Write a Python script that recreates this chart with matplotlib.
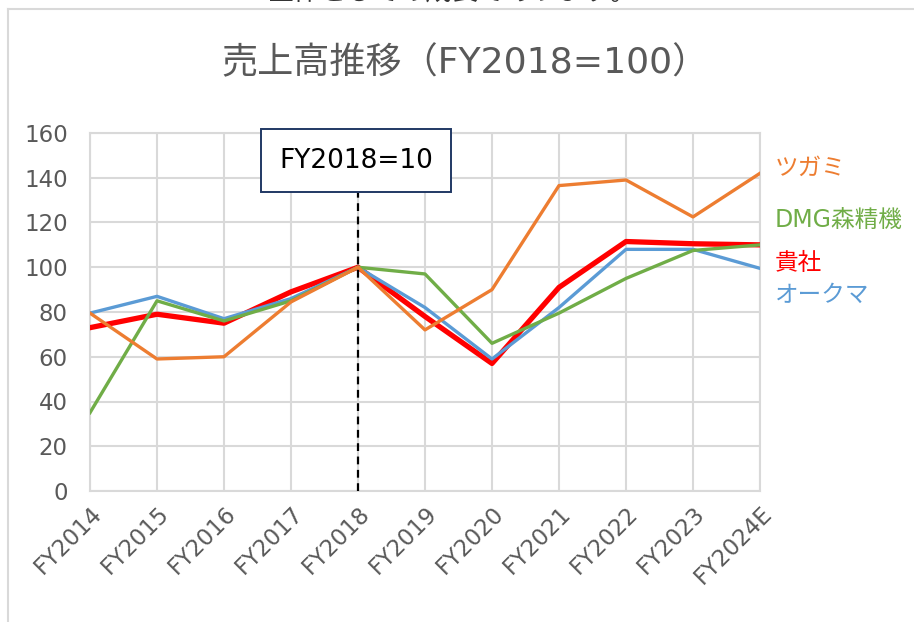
import matplotlib
matplotlib.use("Agg")
import matplotlib.pyplot as plt
from matplotlib.lines import Line2D

# 英数字は DejaVu（Verdana 風）、日本語は Noto にフォールバック
plt.rcParams['font.family'] = ['DejaVu Sans', 'Noto Sans CJK JP']

# データ
years = ["FY2014", "FY2015", "FY2016", "FY2017", "FY2018", "FY2019",
         "FY2020", "FY2021", "FY2022", "FY2023", "FY2024E"]
kisha = [73, 79, 75, 89, 100, 78, 57, 91, 111.5, 110.5, 110]
okuma = [79.5, 87, 77, 86, 100, 82, 59, 82, 108, 108, 99.5]
dmg = [35, 85, 76, 85, 100, 97, 66, 79.5, 95, 107.5, 110]
tsugami = [79.5, 59, 60, 84.5, 100, 72, 90, 136.5, 139, 122.5, 142]

yticks = [0, 20, 40, 60, 80, 100, 120, 140, 160]
base_idx = 4  # FY2018

c_red = "#FF0000"
c_blue = "#5B9BD5"
c_green = "#70AD47"
c_orange = "#ED7D31"
c_text = "#595959"
c_grid = "#D9D9D9"

fig = plt.figure(figsize=(9.14, 6.22), dpi=100)
ax = fig.add_axes([90 / 914, 1 - 491 / 622, 670 / 914, 358 / 622])

x = list(range(len(years)))

# 線（下から順に）
ax.plot(x, kisha, color=c_red, lw=3.8, zorder=3)
ax.plot(x, okuma, color=c_blue, lw=2.4, zorder=4)
ax.plot(x, dmg, color=c_green, lw=2.4, zorder=5)
ax.plot(x, tsugami, color=c_orange, lw=2.4, zorder=6)

# 基準年の点線
ax.plot([base_idx, base_idx], [0, 133], color="black", lw=1.6,
        ls=(0, (3.5, 2.5)), zorder=7, clip_on=False)

ax.set_xlim(0, len(years) - 1)
ax.set_ylim(0, 160)
ax.set_yticks(yticks)
ax.set_xticks(x)
ax.set_xticklabels(years, rotation=45, ha='right', va='top',
                   rotation_mode='anchor', fontsize=16.5, color=c_text)
ax.tick_params(axis='y', labelsize=16.5, colors=c_text, length=0, pad=16)
ax.tick_params(axis='x', length=0, pad=8)
ax.grid(True, color=c_grid, lw=1.5)
ax.set_axisbelow(True)
for s in ax.spines.values():
    s.set_color(c_grid)
    s.set_linewidth(1.5)

# タイトル
fig.text(465 / 914, 1 - 63 / 622, "売上高推移（FY2018=100）", ha='center',
         va='center', fontsize=26, color=c_text)

# 上にはみ出した本文
fig.text(452 / 914, 1 + 6 / 622, "全体としての成長であります。", ha='center',
         va='center', fontsize=19, color="#333333")

# 注記ボックス
ax.text(base_idx - 0.03, 147.5, "FY2018=10", ha='center', va='center',
        fontsize=19, color="black", zorder=8,
        bbox=dict(boxstyle='square,pad=0.7', fc='white', ec='#203864', lw=1.4))

# 右側のラベル
labels = [("ツガミ", c_orange, 168), ("DMG森精機", c_green, 220),
          ("貴社", c_red, 263), ("オークマ", c_blue, 295)]
for txt, col, ypix in labels:
    fig.text(775 / 914, 1 - ypix / 622, txt, ha='left', va='center',
             fontsize=17, color=col)

# 外枠
fig.add_artist(Line2D([8 / 914, 8 / 914], [0, 1 - 9 / 622],
                      color=c_grid, lw=1.5))
fig.add_artist(Line2D([8 / 914, 1], [1 - 9 / 622, 1 - 9 / 622],
                      color=c_grid, lw=1.5))

fig.savefig("out.png", dpi=100)
